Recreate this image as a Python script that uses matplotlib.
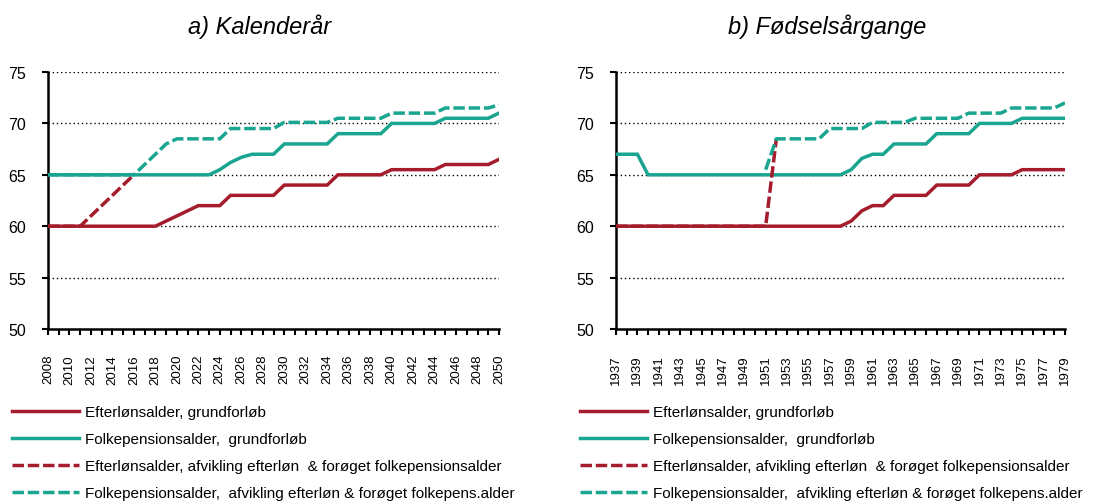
import numpy as np
import matplotlib
matplotlib.use("Agg")
import matplotlib.pyplot as plt

plt.rcParams['font.family'] = ['Liberation Sans', 'DejaVu Sans']

RED = '#A51C2C'
GREEN = '#1AA590'
NAN = np.nan

# a) Kalenderår
years_a = list(range(2008, 2051))
efterlon_a = [60, 60, 60, 60, 60, 60, 60, 60, 60, 60, 60,
              60.5, 61, 61.5,
              62, 62, 62,
              63, 63, 63, 63, 63,
              64, 64, 64, 64, 64,
              65, 65, 65, 65, 65,
              65.5, 65.5, 65.5, 65.5, 65.5,
              66, 66, 66, 66, 66,
              66.5]
folkep_a = [65, 65, 65, 65, 65, 65, 65, 65, 65, 65, 65, 65, 65, 65, 65, 65,
            65.5, 66.2, 66.7,
            67, 67, 67,
            68, 68, 68, 68, 68,
            69, 69, 69, 69, 69,
            70, 70, 70, 70, 70,
            70.5, 70.5, 70.5, 70.5, 70.5,
            71]
efterlon_ref_a = [60, 60, 60, 60, 61, 62, 63, 64, 65] + [NAN] * 34
folkep_ref_a = [65, 65, 65, 65, 65, 65, 65, 65, 65,
                66, 67, 68,
                68.5, 68.5, 68.5, 68.5, 68.5,
                69.5, 69.5, 69.5, 69.5, 69.5,
                70.1, 70.1, 70.1, 70.1, 70.1,
                70.5, 70.5, 70.5, 70.5, 70.5,
                71, 71, 71, 71, 71,
                71.5, 71.5, 71.5, 71.5, 71.5,
                71.8]

# b) Fødselsårgange
years_b = list(range(1937, 1980))
efterlon_b = [60] * 22 + [60.5, 61.5, 62, 62,
                          63, 63, 63, 63,
                          64, 64, 64, 64,
                          65, 65, 65, 65,
                          65.5, 65.5, 65.5, 65.5, 65.5]
folkep_b = [67, 67, 67] + [65] * 19 + [65.5, 66.6, 67, 67,
                                       68, 68, 68, 68,
                                       69, 69, 69, 69,
                                       70, 70, 70, 70,
                                       70.5, 70.5, 70.5, 70.5, 70.5]
efterlon_ref_b = [60] * 15 + [68.5] + [NAN] * 27
folkep_ref_b = [NAN] * 14 + [65.5,
                             68.5, 68.5, 68.5, 68.5, 68.5,
                             69.5, 69.5, 69.5, 69.5,
                             70.1, 70.1, 70.1, 70.1,
                             70.5, 70.5, 70.5, 70.5, 70.5,
                             71, 71, 71, 71,
                             71.5, 71.5, 71.5, 71.5, 71.5,
                             72]

labels = ['Efterlønsalder, grundforløb',
          'Folkepensionsalder,  grundforløb',
          'Efterlønsalder, afvikling efterløn  & forøget folkepensionsalder',
          'Folkepensionsalder,  afvikling efterløn & forøget folkepens.alder']

fig = plt.figure(figsize=(11.01, 5.02), dpi=100)
ax1 = fig.add_axes([48 / 1101, 1 - 330 / 502, 451 / 1101, 257 / 502])
ax2 = fig.add_axes([616 / 1101, 1 - 330 / 502, 449 / 1101, 257 / 502])

LW = 2.5
DASH = (3.3, 1.1)

for ax, yrs, series in [
    (ax1, years_a, [efterlon_a, folkep_a, efterlon_ref_a, folkep_ref_a]),
    (ax2, years_b, [efterlon_b, folkep_b, efterlon_ref_b, folkep_ref_b]),
]:
    for y in [55, 60, 65, 70, 75]:
        ax.axhline(y, color='black', lw=1.0, ls=(0, (1, 2)), zorder=1)
    ax.plot(yrs, series[0], color=RED, lw=LW, solid_joinstyle='miter', zorder=3)
    ax.plot(yrs, series[1], color=GREEN, lw=LW, solid_joinstyle='miter', zorder=3)
    ax.plot(yrs, series[2], color=RED, lw=LW, dashes=DASH, zorder=4)
    ax.plot(yrs, series[3], color=GREEN, lw=LW, dashes=DASH, zorder=5)
    ax.set_xlim(yrs[0], yrs[-1])
    ax.set_ylim(50, 75)
    ax.set_yticks([50, 55, 60, 65, 70, 75])
    ax.set_xticks(yrs)
    ax.set_xticklabels([str(v) if (v - yrs[0]) % 2 == 0 else '' for v in yrs],
                       rotation=90, fontsize=9.5)
    ax.tick_params(axis='x', length=4, width=1.5, pad=14, direction='out')
    ax.tick_params(axis='y', length=4, width=1.5, pad=12, labelsize=11.5)
    for s in ['top', 'right']:
        ax.spines[s].set_visible(False)
    for s in ['left', 'bottom']:
        ax.spines[s].set_linewidth(1.8)

fig.text(260 / 1101, 1 - 34 / 502, 'a) Kalenderår', ha='center', va='baseline',
         fontsize=17, style='italic')
fig.text(827 / 1101, 1 - 34 / 502, 'b) Fødselsårgange', ha='center', va='baseline',
         fontsize=17, style='italic')

for ax, x0 in [(ax1, 12), (ax2, 580)]:
    handles = ax.get_lines()[5:]
    fig.legend(handles, labels, loc='upper left',
               bbox_to_anchor=(x0 / 1101, 1 - 406 / 502), frameon=False,
               borderpad=0, borderaxespad=0, handlelength=4.4,
               handletextpad=0.4, labelspacing=0.86, fontsize=11)

fig.savefig('out.png', dpi=100)
